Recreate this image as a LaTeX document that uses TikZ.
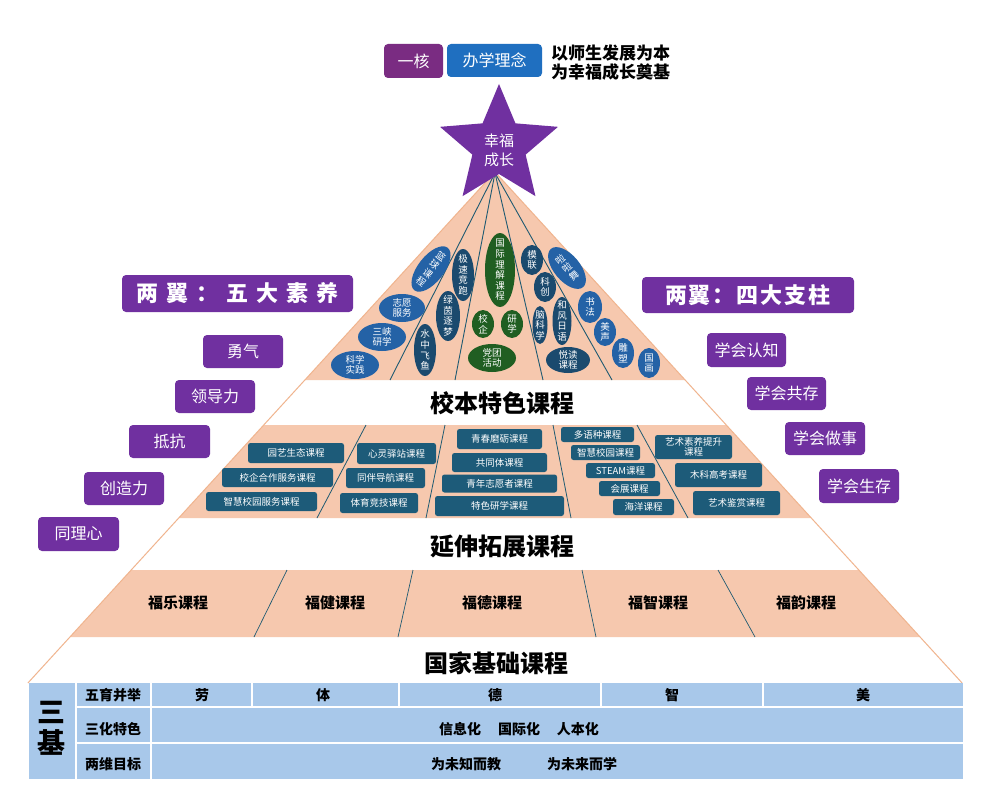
\documentclass[tikz,border=0pt]{standalone}
\usepackage{fontspec}
\setmainfont{Noto Sans CJK SC}
\usetikzlibrary{shapes.geometric}
\definecolor{peach}{HTML}{F6C8AE}
\definecolor{peachline}{HTML}{F0B48E}
\definecolor{pur}{HTML}{7030A0}
\definecolor{hexin}{HTML}{7A2C82}
\definecolor{bxblue}{HTML}{1F6FC0}
\definecolor{tealbox}{HTML}{1D5B79}
\definecolor{ovblue}{HTML}{2462A6}
\definecolor{ovnavy}{HTML}{1B4A6E}
\definecolor{ovgreen}{HTML}{205E22}
\definecolor{fanline}{HTML}{1F5A72}
\definecolor{tblue}{HTML}{A8C8EA}
\newcommand\fs[1]{\fontsize{#1}{#1}\selectfont}
\newcommand\myoval[8]{%
  \fill[#6, rotate around={#5:(#1,#2)}] (#1,#2) ellipse [x radius=#3, y radius=#4];
  \node[ovtext, rotate=#5] (#7) at (#1,#2) {#8};}
\begin{document}
\begin{tikzpicture}[x=1pt, y=-1pt,
  pbox/.style={fill=pur, rounded corners=4pt, text=white, inner sep=0pt, font=\fs{16}},
  course/.style={fill=tealbox, rounded corners=2.5pt, text=white, inner sep=0pt, font=\fontsize{9.5}{11}\selectfont, align=center},
  ovtext/.style={text=white, inner sep=0pt, align=center, font=\fontsize{9.5}{10.6}\selectfont},
  bandtitle/.style={font=\bfseries\fs{24}},
  fu/.style={font=\bfseries\fs{15}},
  cell/.style={fill=tblue},
  ttext/.style={font=\bfseries\fs{14}},
  fan/.style={draw=fanline, line width=0.9pt},
  divider/.style={draw=fanline, line width=0.8pt}]
\useasboundingbox (0,0) rectangle (986,789);
\fill[white] (0,0) rectangle (986,789);

% ---- pyramid bands ----
\fill[peach] (495,172) -- (685.1,380) -- (304.9,380) -- cycle;
\fill[peach] (263.8,425) -- (726.2,425) -- (811.2,518) -- (178.8,518) -- cycle;
\fill[peach] (131.2,570) -- (858.8,570) -- (920,637) -- (70,637) -- cycle;
\draw[peachline, line width=1pt] (27.9,683) -- (495,172) -- (962.1,683);

% fan lines in top band
\coordinate (apex) at (495,173);
\coordinate (f1) at (390,380);
\coordinate (f2) at (455,380);
\coordinate (f3) at (543,380);
\coordinate (f4) at (612,380);
\draw[fan] (apex) -- (f1);
\draw[fan] (apex) -- (f2);
\draw[fan] (apex) -- (f3);
\draw[fan] (apex) -- (f4);

% dividers in middle band
\draw[divider] (366,425) -- (317,518);
\draw[divider] (445,425) -- (426,518);
\draw[divider] (553,425) -- (571,518);
\draw[divider] (637,425) -- (688,518);

% dividers in fu band
\draw[divider, line width=0.7pt] (287,570) -- (254,637);
\draw[divider, line width=0.7pt] (413,570) -- (398,637);
\draw[divider, line width=0.7pt] (582,570) -- (596,637);
\draw[divider, line width=0.7pt] (718,570) -- (755,637);

% ---- ovals ----
\myoval{431}{269}{13}{27}{-38}{ovblue}{o1}{篮\\球\\课\\程}
\myoval{402}{308}{23}{14}{0}{ovblue}{o2}{志愿\\服务}
\myoval{382}{337}{24}{14}{0}{ovblue}{o3}{三峡\\研学}
\myoval{355}{365}{24}{14}{0}{ovblue}{o4}{科学\\实践}
\myoval{463}{275}{11}{26}{0}{ovnavy}{o5}{极\\速\\竞\\跑}
\myoval{448}{316}{12}{25}{0}{ovnavy}{o6}{绿\\茵\\逐\\梦}
\myoval{425}{350}{11}{26}{0}{ovnavy}{o7}{水\\中\\飞\\鱼}
\myoval{500}{270}{15}{37}{0}{ovgreen}{o8}{国\\际\\理\\解\\课\\程}
\myoval{483}{324}{11}{14}{0}{ovgreen}{o9}{校\\企}
\myoval{512}{324}{11}{14}{0}{ovgreen}{o10}{研\\学}
\myoval{492}{358}{24}{14}{0}{ovgreen}{o11}{党团\\活动}
\myoval{532}{260}{11}{15}{0}{ovnavy}{o12}{模\\联}
\myoval{545}{287}{11}{15}{0}{ovnavy}{o13}{科\\创}
\myoval{540}{325}{7.5}{19}{0}{ovnavy}{o14}{脑\\科\\学}
\myoval{562}{321}{9.5}{24}{0}{ovnavy}{o15}{和\\风\\日\\语}
\myoval{568}{360}{22}{13}{0}{ovnavy}{o16}{悦读\\课程}
\myoval{567}{268}{13}{25}{40}{ovblue}{o17}{啦\\啦\\舞}
\myoval{590}{307}{12}{16}{0}{ovblue}{o18}{书\\法}
\myoval{605}{332}{11}{14}{0}{ovblue}{o19}{美\\声}
\myoval{623}{353}{11}{15}{0}{ovblue}{o20}{雕\\塑}
\myoval{649}{363}{11}{15}{0}{ovblue}{o21}{国\\画}

% ---- course boxes ----
\node[course, minimum width=96pt, minimum height=20pt] (c1) at (296,453) {园艺生态课程};
\node[course, minimum width=111pt, minimum height=19pt] (c2) at (277.5,477.5) {校企合作服务课程};
\node[course, minimum width=111pt, minimum height=19pt] (c3) at (261.5,501.5) {智慧校园服务课程};
\node[course, minimum width=79pt, minimum height=21pt] (c4) at (396.5,453.5) {心灵驿站课程};
\node[course, minimum width=79pt, minimum height=20pt] (c5) at (385.5,478) {同伴导航课程};
\node[course, minimum width=78pt, minimum height=20pt] (c6) at (379,503) {体育竞技课程};
\node[course, minimum width=85pt, minimum height=20pt] (c7) at (499.5,439) {青春磨砺课程};
\node[course, minimum width=95pt, minimum height=19pt] (c8) at (499.5,462.5) {共同体课程};
\node[course, minimum width=115pt, minimum height=18pt] (c9) at (499.5,483.5) {青年志愿者课程};
\node[course, minimum width=129pt, minimum height=20pt] (c10) at (499.5,506) {特色研学课程};
\node[course, minimum width=73pt, minimum height=15pt] (c11) at (597.5,434.5) {多语种课程};
\node[course, minimum width=69pt, minimum height=15pt] (c12) at (605.5,452.5) {智慧校园课程};
\node[course, minimum width=69pt, minimum height=15pt] (c13) at (620.5,470.5) {STEAM课程};
\node[course, minimum width=61pt, minimum height=15pt] (c14) at (629.5,488.5) {会展课程};
\node[course, minimum width=61pt, minimum height=16pt] (c15) at (643.5,507) {海洋课程};
\node[course, minimum width=77pt, minimum height=24pt, font=\fontsize{9.5}{10.5}\selectfont] (c16) at (693.5,447) {艺术素养提升\\课程};
\node[course, minimum width=87pt, minimum height=24pt] (c17) at (718.5,475) {木科高考课程};
\node[course, minimum width=87pt, minimum height=24pt] (c18) at (736.5,503) {艺术鉴赏课程};

% ---- band titles ----
\node[bandtitle] (t1) at (502,403) {校本特色课程};
\node[bandtitle] (t2) at (502,546) {延伸拓展课程};
\node[bandtitle] (t3) at (496,663) {国家基础课程};
\node[fu] (fu1) at (178,603) {福乐课程};
\node[fu] (fu2) at (335,603) {福健课程};
\node[fu] (fu3) at (492,603) {福德课程};
\node[fu] (fu4) at (658,603) {福智课程};
\node[fu] (fu5) at (806,603) {福韵课程};

% ---- star ----
\begin{scope}[shift={(499,146)}]
\fill[pur] (-90:62) -- (-54:28) -- (-18:62) -- (18:28) -- (54:62) -- (90:28)
  -- (126:62) -- (162:28) -- (198:62) -- (234:28) -- cycle;
\end{scope}
\node[text=white, align=center, font=\fontsize{15}{19}\selectfont, inner sep=0pt] (star) at (499,150) {幸福\\成长};

% ---- header ----
\node[fill=hexin, rounded corners=4pt, text=white, font=\fs{16}, minimum width=59pt, minimum height=34pt, inner sep=0pt] (yihe) at (413.5,61) {一核};
\node[fill=bxblue, rounded corners=4pt, text=white, font=\fs{16}, minimum width=95pt, minimum height=33pt, inner sep=0pt] (banxue) at (494.5,60.5) {办学理念};
\node[anchor=west, align=left, font=\bfseries\fontsize{17}{18.5}\selectfont, inner sep=0pt] (motto) at (551,62.5) {以师生发展为本\\为幸福成长奠基};

% ---- left wing ----
\node[pbox, minimum width=231pt, minimum height=37pt, font=\bfseries\fs{22}] (lw) at (237.5,293.5) {两\hspace{8pt}翼\hspace{8pt}：\hspace{8pt}五\hspace{8pt}大\hspace{8pt}素\hspace{8pt}养};
\node[pbox, minimum width=80pt, minimum height=33pt] (l1) at (243,351.5) {勇气};
\node[pbox, minimum width=80pt, minimum height=33pt] (l2) at (215,396.5) {领导力};
\node[pbox, minimum width=81pt, minimum height=33pt] (l3) at (169.5,441.5) {抵抗};
\node[pbox, minimum width=80pt, minimum height=33pt] (l4) at (124,488.5) {创造力};
\node[pbox, minimum width=81pt, minimum height=34pt] (l5) at (78.5,534) {同理心};

% ---- right wing ----
\node[pbox, minimum width=212pt, minimum height=36pt, font=\bfseries\fs{22}] (rw) at (748,295) {两\hspace{2pt}翼\hspace{2pt}：\hspace{2pt}四\hspace{2pt}大\hspace{2pt}支\hspace{2pt}柱};
\node[pbox, minimum width=79pt, minimum height=34pt] (r1) at (746.5,350) {学会认知};
\node[pbox, minimum width=79pt, minimum height=33pt] (r2) at (786.5,393.5) {学会共存};
\node[pbox, minimum width=80pt, minimum height=33pt] (r3) at (825,438.5) {学会做事};
\node[pbox, minimum width=80pt, minimum height=34pt] (r4) at (859,486) {学会生存};

% ---- table ----
\fill[cell] (29,683) rectangle (75,779);
\fill[cell] (77,683) rectangle (150,706);
\fill[cell] (77,708) rectangle (150,742);
\fill[cell] (77,744) rectangle (150,779);
\fill[cell] (152,683) rectangle (251,706);
\fill[cell] (253,683) rectangle (398,706);
\fill[cell] (400,683) rectangle (600,706);
\fill[cell] (602,683) rectangle (762,706);
\fill[cell] (764,683) rectangle (963,706);
\fill[cell] (152,708) rectangle (963,742);
\fill[cell] (152,744) rectangle (963,779);
\node[align=center, font=\bfseries\fontsize{28}{31}\selectfont, inner sep=0pt] (sanji) at (51,728) {三\\基};
\node[ttext] (h1) at (113,695) {五育并举};
\node[ttext] (h2) at (113,729) {三化特色};
\node[ttext] (h3) at (113,764) {两维目标};
\node[ttext] (w1) at (202,695) {劳};
\node[ttext] (w2) at (323,695) {体};
\node[ttext] (w3) at (495,695) {德};
\node[ttext] (w4) at (672,695) {智};
\node[ttext] (w5) at (863,695) {美};
\node[ttext] (s1) at (519,729) {信息化\hspace{17pt}国际化\hspace{17pt}人本化};
\node[ttext] (g1) at (466,764) {为未知而教};
\node[ttext] (g2) at (582,764) {为未来而学};
\end{tikzpicture}
\end{document}
